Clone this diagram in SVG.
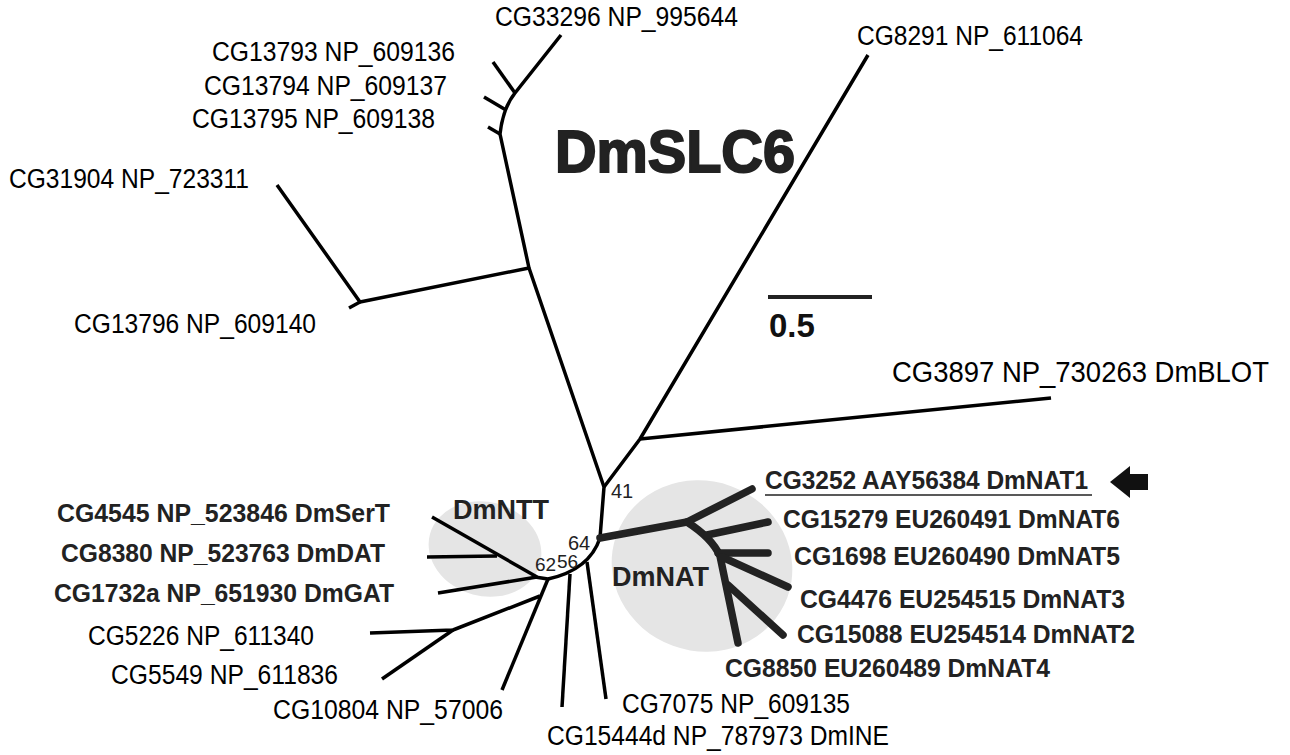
<svg xmlns="http://www.w3.org/2000/svg" width="1290" height="755" viewBox="0 0 1290 755">
<style>
.lbl{font-family:"Liberation Sans",Arial,sans-serif;font-size:27px;fill:#000}
.b{font-family:"Liberation Sans",Arial,sans-serif;font-size:26.5px;font-weight:bold;fill:#222}
.num{font-family:"Liberation Sans",Arial,sans-serif;font-size:20px;fill:#222}
.br{fill:none;stroke:#000;stroke-width:3.5;stroke-linejoin:round}
.thick{fill:none;stroke:#222;stroke-width:7.5;stroke-linecap:round;stroke-linejoin:round}
.clade{fill:#e5e5e5}
</style>
<rect width="1290" height="755" fill="#fff"/>
<g id="clades">
<ellipse id="clade-ntt" class="clade" cx="485" cy="549" rx="57" ry="47" transform="rotate(15 485 549)"/>
<ellipse id="clade-nat" class="clade" cx="702" cy="566" rx="91" ry="85" transform="rotate(20 702 566)"/>
</g>
<g id="connectors">
<path class="br" d="M561,35 L515,93 Q503,108 500,134 L529,268 L604,487 L600,538"/>
<path class="br" d="M515,93 L493,62"/>
<path class="br" d="M506,110 L484,97"/>
<path class="br" d="M500,134 L488,127"/>
<path class="br" d="M529,268 L360,302 L277,185"/>
<path class="br" d="M360,302 L349,308"/>
<path class="br" d="M604,487 L640,439 L868,55"/>
<path class="br" d="M640,439 L1051,398"/>
<path class="br" d="M600,538 C594,556 580,572 548,579 L535,577"/>
<path class="br" d="M587,562 L606,699"/>
<path class="br" d="M570,574 L562,707"/>
<path class="br" d="M548,579 L502,690"/>
<path class="br" d="M540,596 L453,630 L370,633"/>
<path class="br" d="M453,630 L382,679"/>
<path class="br" d="M537,577 L432,517"/>
<path class="br" d="M497,556 L427,557"/>
<path class="br" d="M537,577 L438,593"/>
<path class="thick" d="M600,538 L687,522 L752,489"/>
<path class="thick" d="M687,522 Q712,538 720,556 L738,643"/>
<path class="thick" d="M707,535 L768,522"/>
<path class="thick" d="M718,553 L768,553"/>
<path class="thick" d="M722,557 L788,587"/>
<path class="thick" d="M728,585 L783,635"/>
</g>
<g id="top-labels">
<text id="n-cg33296" class="lbl" x="495" y="26" textLength="243" lengthAdjust="spacingAndGlyphs">CG33296 NP_995644</text>
<text id="n-cg13793" class="lbl" x="212" y="61" textLength="243" lengthAdjust="spacingAndGlyphs">CG13793 NP_609136</text>
<text id="n-cg13794" class="lbl" x="204" y="95" textLength="243" lengthAdjust="spacingAndGlyphs">CG13794 NP_609137</text>
<text id="n-cg13795" class="lbl" x="192" y="128" textLength="243" lengthAdjust="spacingAndGlyphs">CG13795 NP_609138</text>
<text id="n-cg31904" class="lbl" x="9" y="188" textLength="240" lengthAdjust="spacingAndGlyphs">CG31904 NP_723311</text>
<text id="n-cg13796" class="lbl" x="74" y="333" textLength="242" lengthAdjust="spacingAndGlyphs">CG13796 NP_609140</text>
<text id="n-cg8291" class="lbl" x="857" y="45" textLength="226" lengthAdjust="spacingAndGlyphs">CG8291 NP_611064</text>
<text id="n-cg3897" class="lbl" x="892" y="382" style="font-size:29px" textLength="377" lengthAdjust="spacingAndGlyphs">CG3897 NP_730263 DmBLOT</text>
</g>
<g id="title">
<text x="555" y="172" textLength="240" lengthAdjust="spacingAndGlyphs" style="font-family:'Liberation Sans',Arial,sans-serif;font-size:60px;font-weight:bold;fill:#222;stroke:#222;stroke-width:2">DmSLC6</text>
</g>
<g id="scale">
<line x1="768" y1="297" x2="872" y2="297" stroke="#222" stroke-width="4"/>
<text x="769" y="337" style="font-family:'Liberation Sans',Arial,sans-serif;font-size:33px;font-weight:bold;fill:#111">0.5</text>
</g>
<g id="nat-labels">
<text id="n-cg3252" class="b" x="765" y="489" textLength="323" lengthAdjust="spacingAndGlyphs">CG3252 AAY56384 DmNAT1</text>
<line x1="765" y1="495" x2="1092" y2="495" stroke="#222" stroke-width="1.6"/>
<polygon id="arrow" points="1110,482 1130,466 1130,474 1148,474 1148,490 1130,490 1130,498" fill="#111"/>
<text id="n-cg15279" class="b" x="783" y="528" textLength="337" lengthAdjust="spacingAndGlyphs">CG15279 EU260491 DmNAT6</text>
<text id="n-cg1698" class="b" x="794" y="565" textLength="326" lengthAdjust="spacingAndGlyphs">CG1698 EU260490 DmNAT5</text>
<text id="n-cg4476" class="b" x="800" y="608" textLength="325" lengthAdjust="spacingAndGlyphs">CG4476 EU254515 DmNAT3</text>
<text id="n-cg15088" class="b" x="797" y="643" textLength="338" lengthAdjust="spacingAndGlyphs">CG15088 EU254514 DmNAT2</text>
<text id="n-cg8850" class="b" x="725" y="677" textLength="325" lengthAdjust="spacingAndGlyphs">CG8850 EU260489 DmNAT4</text>
<text class="b" x="612" y="586" style="font-size:27px">DmNAT</text>
</g>
<g id="ntt-labels">
<text class="b" x="453" y="519" style="font-size:27px">DmNTT</text>
<text id="n-cg4545" class="b" x="57" y="522" textLength="333" lengthAdjust="spacingAndGlyphs">CG4545 NP_523846 DmSerT</text>
<text id="n-cg8380" class="b" x="61" y="562" textLength="324" lengthAdjust="spacingAndGlyphs">CG8380 NP_523763 DmDAT</text>
<text id="n-cg1732a" class="b" x="54" y="602" textLength="340" lengthAdjust="spacingAndGlyphs">CG1732a NP_651930 DmGAT</text>
</g>
<g id="bottom-labels">
<text id="n-cg5226" class="lbl" x="88" y="645" textLength="226" lengthAdjust="spacingAndGlyphs">CG5226 NP_611340</text>
<text id="n-cg5549" class="lbl" x="111" y="684" textLength="227" lengthAdjust="spacingAndGlyphs">CG5549 NP_611836</text>
<text id="n-cg10804" class="lbl" x="273" y="719" textLength="230" lengthAdjust="spacingAndGlyphs">CG10804 NP_57006</text>
<text id="n-cg7075" class="lbl" x="622" y="713" textLength="228" lengthAdjust="spacingAndGlyphs">CG7075 NP_609135</text>
<text id="n-cg15444d" class="lbl" x="547" y="745" textLength="342" lengthAdjust="spacingAndGlyphs">CG15444d NP_787973 DmINE</text>
</g>
<g id="bootstrap">
<text class="num" x="611" y="498">41</text>
<text class="num" x="568" y="550">64</text>
<text class="num" x="535" y="571" style="font-size:19px">62</text>
<text class="num" x="557" y="568" style="font-size:19px">56</text>
</g>
</svg>
